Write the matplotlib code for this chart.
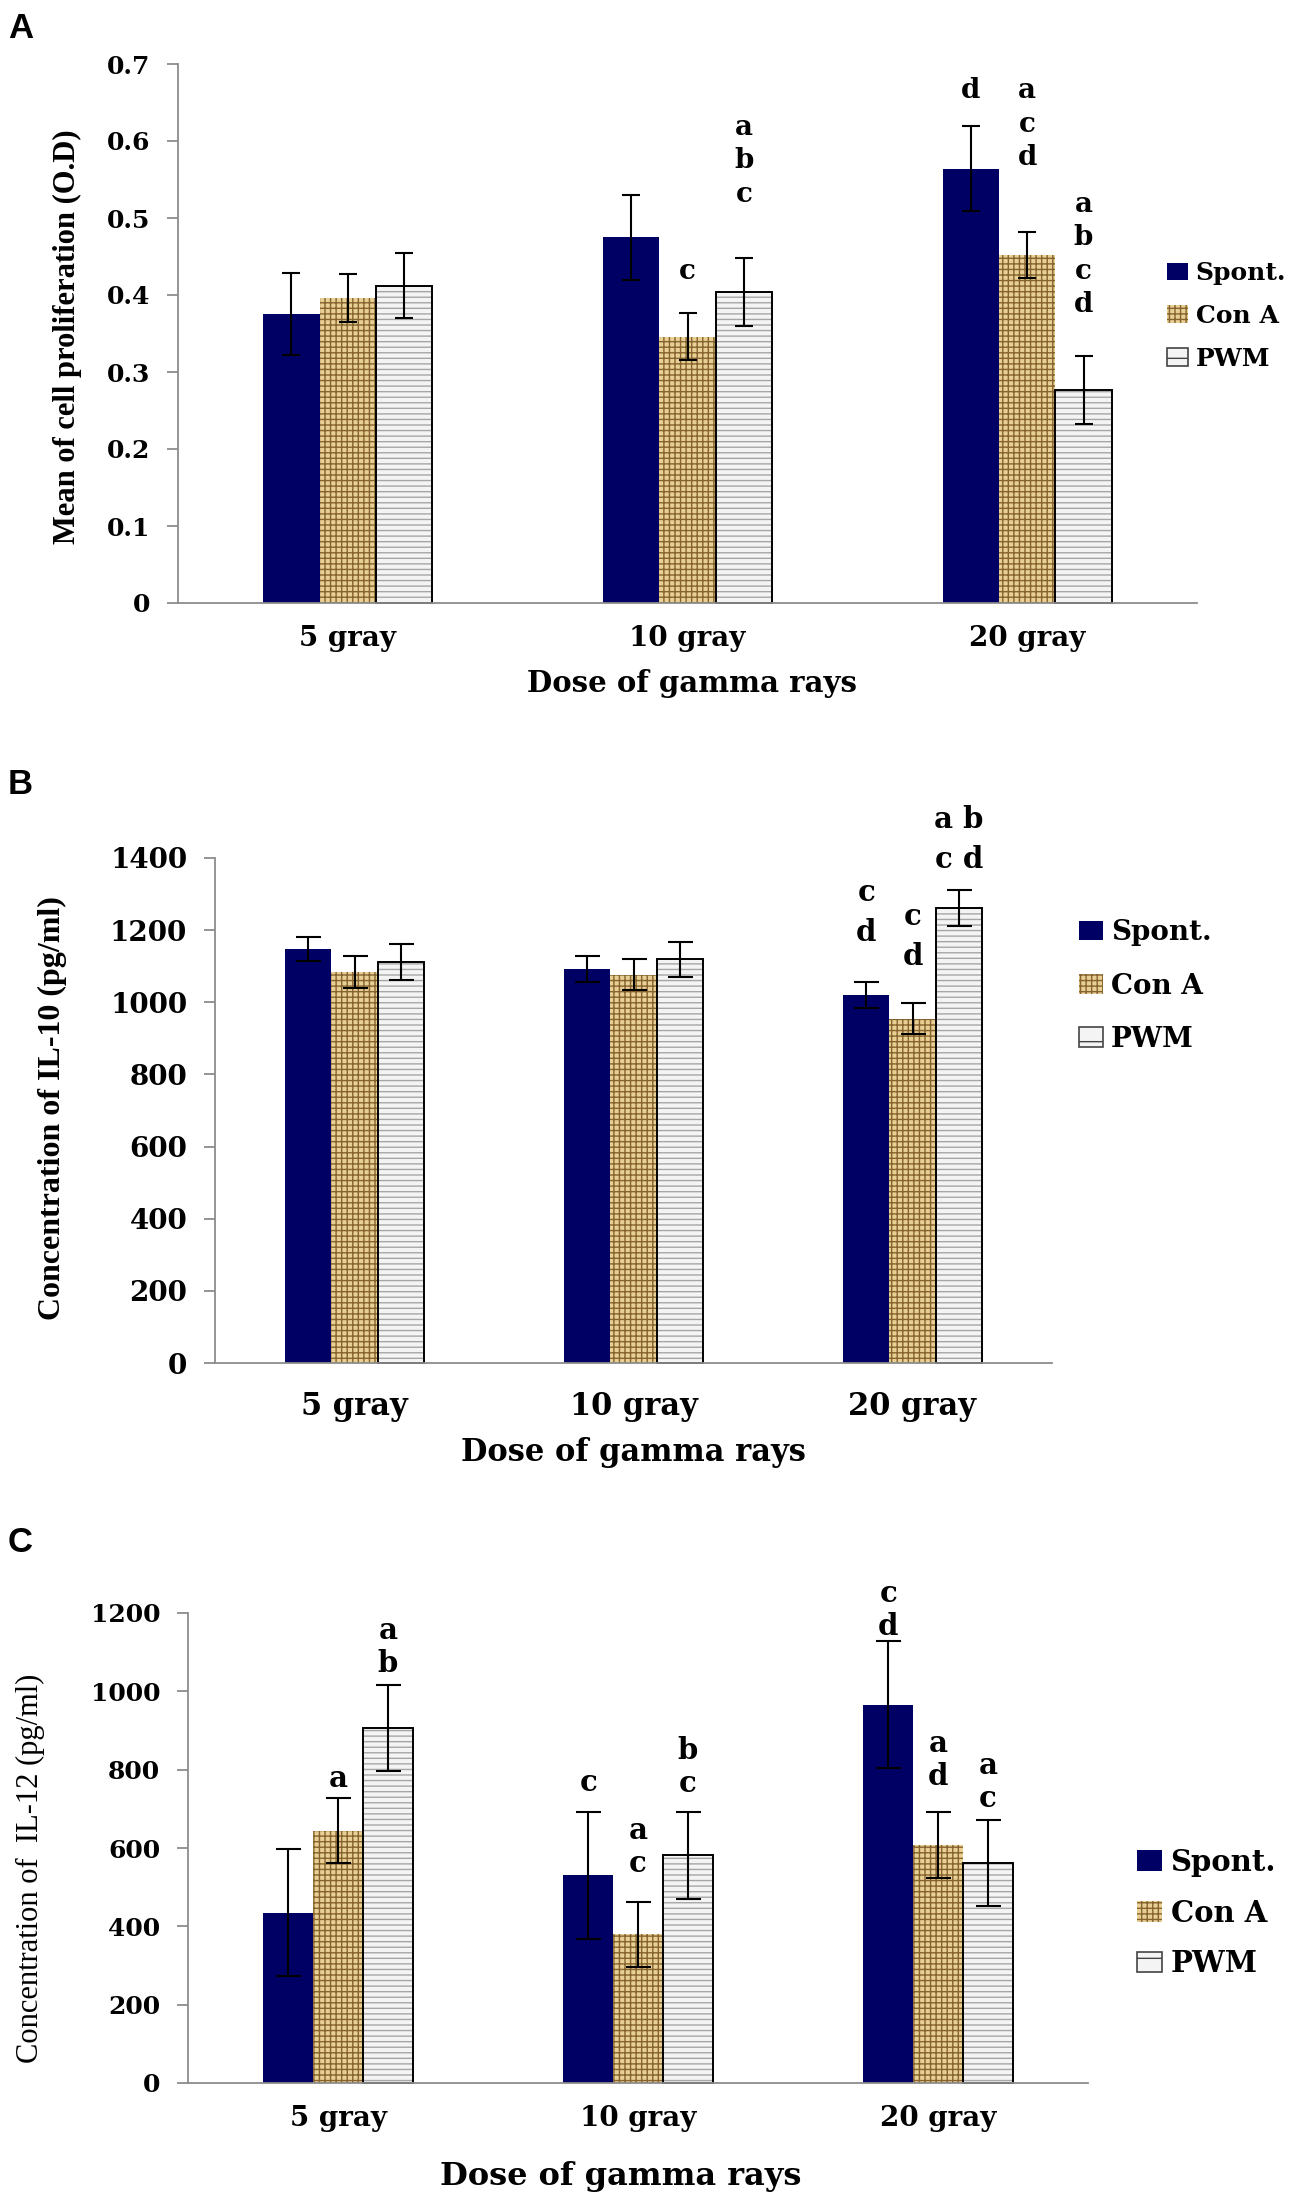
import matplotlib
matplotlib.use("Agg")
import matplotlib.pyplot as plt
from matplotlib.patches import Patch
from matplotlib.font_manager import FontProperties
import numpy as np

# ---- data ----
doses = ["5 gray", "10 gray", "20 gray"]
series_names = ["Spont.", "Con A", "PWM"]

# A: cell proliferation (O.D)
prolif_spont = [0.375, 0.475, 0.564]
prolif_spont_err = [0.053, 0.055, 0.055]
prolif_cona = [0.396, 0.346, 0.452]
prolif_cona_err = [0.031, 0.030, 0.030]
prolif_pwm = [0.412, 0.404, 0.277]
prolif_pwm_err = [0.042, 0.044, 0.044]
prolif_ticks = [0, 0.1, 0.2, 0.3, 0.4, 0.5, 0.6, 0.7]
prolif_ticklabels = ["0", "0.1", "0.2", "0.3", "0.4", "0.5", "0.6", "0.7"]
# (dose index, series index, letters top->bottom, y of top letter)
prolif_letters = [(1, 1, ["c"], 0.431), (1, 2, ["a", "b", "c"], 0.618),
                  (2, 0, ["d"], 0.665), (2, 1, ["a", "c", "d"], 0.665),
                  (2, 2, ["a", "b", "c", "d"], 0.518)]

# B: IL-10 (pg/ml)
il10_spont = [1148, 1092, 1019]
il10_spont_err = [34, 35, 36]
il10_cona = [1083, 1076, 955]
il10_cona_err = [44, 43, 42]
il10_pwm = [1112, 1119, 1261]
il10_pwm_err = [50, 49, 49]
il10_ticks = [0, 200, 400, 600, 800, 1000, 1200, 1400]
il10_ticklabels = ["0", "200", "400", "600", "800", "1000", "1200", "1400"]
il10_letters = [(2, 0, ["c", "d"], 1304), (2, 1, ["c", "d"], 1238),
                (2, 2, ["a b", "c d"], 1506)]

# C: IL-12 (pg/ml)
il12_spont = [435, 530, 966]
il12_spont_err = [163, 163, 163]
il12_cona = [644, 380, 608]
il12_cona_err = [83, 83, 85]
il12_pwm = [906, 582, 562]
il12_pwm_err = [110, 111, 110]
il12_ticks = [0, 200, 400, 600, 800, 1000, 1200]
il12_ticklabels = ["0", "200", "400", "600", "800", "1000", "1200"]
il12_letters = [(0, 1, ["a"], 778), (0, 2, ["a", "b"], 1156),
                (1, 0, ["c"], 767), (1, 1, ["a", "c"], 645),
                (1, 2, ["b", "c"], 849), (2, 0, ["c", "d"], 1251),
                (2, 1, ["a", "d"], 867), (2, 2, ["a", "c"], 811)]

# ---- style ----
SPONT_C = "#000064"
CONA_FACE = "#e8cf94"
CONA_HATCH = "#86632f"
PWM_FACE = "#f4f4f4"
PWM_HATCH = "#a6a6a6"
AXIS_C = "#8c8c8c"
SERIF_WIDE = "DejaVu Serif"
SERIF = "Liberation Serif"

plt.rcParams["hatch.linewidth"] = 1.0

W, H = 1307, 2199
fig = plt.figure(figsize=(W / 100, H / 100), dpi=100)


def px_axes(left, right, top, bottom):
    return fig.add_axes([left / W, 1 - bottom / H, (right - left) / W, (bottom - top) / H])


def draw_panel(ax, spont, spont_err, cona, cona_err, pwm, pwm_err, ticks, ticklabels,
               letters, letter_step, tick_fs, xtick_fs, xtick_pad, letter_fs, capsize):
    x = np.arange(len(doses))
    w = 0.166
    ax.bar(x - w, spont, w, color=SPONT_C, lw=0, zorder=2)
    ax.bar(x, cona, w, facecolor=CONA_FACE, edgecolor=CONA_HATCH, hatch="+++", lw=0, zorder=2)
    ax.bar(x + w, pwm, w, facecolor=PWM_FACE, edgecolor=PWM_HATCH, hatch="---", lw=0, zorder=2)
    ax.bar(x + w, pwm, w, facecolor="none", edgecolor="black", lw=1.4, zorder=2.5, clip_on=False)
    for off, vals, errs in [(-w, spont, spont_err), (0, cona, cona_err), (w, pwm, pwm_err)]:
        ax.errorbar(x + off, vals, yerr=errs, fmt="none", ecolor="black", elinewidth=1.5,
                    capsize=capsize, capthick=1.5, zorder=3)
    for g, s, lines, ytop in letters:
        for i, t in enumerate(lines):
            ax.text(g + (s - 1) * w, ytop - i * letter_step, t, ha="center", va="center",
                    family=SERIF_WIDE, weight="bold", fontsize=letter_fs)
    ax.set_xlim(-0.5, len(doses) - 0.5)
    ax.set_ylim(ticks[0], ticks[-1])
    ax.set_yticks(ticks)
    ax.set_yticklabels(ticklabels, family=SERIF_WIDE, weight="bold", fontsize=tick_fs)
    ax.set_xticks(x)
    ax.set_xticklabels(doses, family=SERIF_WIDE, weight="bold", fontsize=xtick_fs)
    for sp in ["top", "right"]:
        ax.spines[sp].set_visible(False)
    for sp in ["left", "bottom"]:
        ax.spines[sp].set_color(AXIS_C)
        ax.spines[sp].set_linewidth(1.3)
    ax.tick_params(axis="y", length=8, width=1.3, color=AXIS_C, pad=12)
    ax.tick_params(axis="x", length=0, pad=xtick_pad)


def add_legend(ax, left_px, mid_px, fs, spacing, weight="bold"):
    handles = [Patch(facecolor=SPONT_C, lw=0),
               Patch(facecolor=CONA_FACE, edgecolor=CONA_HATCH, hatch="+++", lw=0),
               Patch(facecolor=PWM_FACE, edgecolor="#444444", hatch="-", lw=1.2)]
    ax.legend(handles, series_names, loc="center left",
              bbox_to_anchor=(left_px / W, 1 - mid_px / H), bbox_transform=fig.transFigure,
              frameon=False, borderpad=0, borderaxespad=0, handlelength=0.85,
              handleheight=0.7, handletextpad=0.3, labelspacing=spacing,
              prop=FontProperties(family=SERIF_WIDE, weight=weight, size=fs))


def panel_label(y_px, s):
    fig.text(8 / W, 1 - y_px / H, s, ha="left", va="top", family="Liberation Sans",
             weight="bold", fontsize=25)


# ---- panel A ----
axA = px_axes(178, 1197, 64, 603)
draw_panel(axA, prolif_spont, prolif_spont_err, prolif_cona, prolif_cona_err,
           prolif_pwm, prolif_pwm_err, prolif_ticks, prolif_ticklabels,
           prolif_letters, 0.0435, 18, 20, 16, 20, 6.5)
add_legend(axA, 1167, 316, 18, 0.75)
panel_label(12, "A")
fig.text(67 / W, 1 - 337 / H, "Mean of cell proliferation (O.D)", rotation=90,
         ha="center", va="center", family=SERIF, weight="bold", fontsize=22)
fig.text(692 / W, 1 - 684 / H, "Dose of gamma rays", ha="center", va="center",
         family=SERIF_WIDE, weight="bold", fontsize=21)

# ---- panel B ----
axB = px_axes(215, 1052, 858, 1363)
draw_panel(axB, il10_spont, il10_spont_err, il10_cona, il10_cona_err,
           il10_pwm, il10_pwm_err, il10_ticks, il10_ticklabels,
           il10_letters, 110, 20, 22, 20, 21, 9)
add_legend(axB, 1079, 986, 20, 0.95)
panel_label(768, "B")
fig.text(52 / W, 1 - 1108 / H, "Concentration of IL-10 (pg/ml)", rotation=90,
         ha="center", va="center", family=SERIF, weight="bold", fontsize=23)
fig.text(633 / W, 1 - 1452 / H, "Dose of gamma rays", ha="center", va="center",
         family=SERIF_WIDE, weight="bold", fontsize=22)

# ---- panel C ----
axC = px_axes(188, 1088, 1613, 2083)
draw_panel(axC, il12_spont, il12_spont_err, il12_cona, il12_cona_err,
           il12_pwm, il12_pwm_err, il12_ticks, il12_ticklabels,
           il12_letters, 85, 18, 20, 16, 21, 9)
add_legend(axC, 1137, 1913, 21, 0.75)
panel_label(1526, "C")
fig.text(30 / W, 1 - 1868 / H, "Concentration of  IL-12 (pg/ml)", rotation=90,
         ha="center", va="center", family=SERIF, fontsize=22)
fig.text(621 / W, 1 - 2177 / H, "Dose of gamma rays", ha="center", va="center",
         family=SERIF_WIDE, weight="bold", fontsize=23)

fig.savefig("out.png", dpi=100)
